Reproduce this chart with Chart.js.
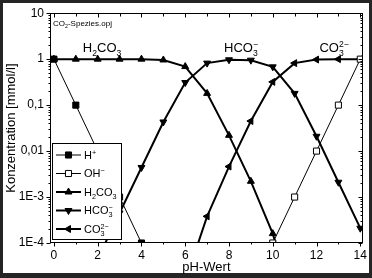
<!DOCTYPE html>
<html><head><meta charset="utf-8">
<script src="https://cdn.jsdelivr.net/npm/chart.js@4/dist/chart.umd.min.js"></script>
<style>
html,body{margin:0;padding:0;background:#252525;overflow:hidden}
canvas{display:block}
</style></head>
<body>
<canvas id="c" width="372" height="278"></canvas>
<script>
// ---- data ----
const pH = [0,1,2,3,4,5,6,7,8,9,10,11,12,13,14];
const hPlus  = [1,0.1,0.01,1e-3,1e-4,1e-5,null,null,null,null,null,null,null,null,null];
const ohMinus= [null,null,null,null,null,null,null,null,null,1e-5,1e-4,1e-3,0.01,0.1,1];
const h2co3  = [1,1,1,1,1,0.96,0.69,0.18,0.022,0.0022,1.6e-4,4e-6,null,null,null];
const hco3   = [null,null,4.5e-5,4.5e-4,0.0044,0.043,0.31,0.82,0.97,0.95,0.68,0.18,0.021,0.0021,2.1e-4];
const co3    = [null,null,null,null,null,null,1.45e-5,3.8e-4,0.0046,0.045,0.32,0.82,0.98,1,1];
const seriesLabels = ['H⁺','OH⁻','H₂CO₃','HCO₃⁻','CO₃²⁻'];
const xTickValues = [0,2,4,6,8,10,12,14];
const yTickValues = [1e-4,1e-3,0.01,0.1,1,10];
const yTickLabels = ['1E-4','1E-3','0,01','0,1','1','10'];
const curveLabels = ['H₂CO₃','HCO₃⁻','CO₃²⁻'];
const xTitle = 'pH-Wert';
const yTitle = 'Konzentration [mmol/l]';
const fileNote = 'CO₂-Spezies.opj';

const FONT = '"Liberation Sans", Arial, Helvetica, sans-serif';
const pts = arr => pH.map((x,i)=>({x:x, y:arr[i]}));

// ---- chemical-formula text with sub/superscripts ----
const SUB='₀₁₂₃₄₅₆₇₈₉', SUP='⁰¹²³⁴⁵⁶⁷⁸⁹⁺⁻', SUPN='0123456789+−';
function parseChem(s){
  const runs=[];
  for (const ch of s){
    let t='n', c=ch, i=SUB.indexOf(ch);
    if (i>=0){t='b';c=String(i);} else { i=SUP.indexOf(ch); if(i>=0){t='p';c=SUPN[i];} }
    const last=runs[runs.length-1];
    if (last && last.t===t) last.s+=c; else runs.push({t:t,s:c});
  }
  return runs;
}
function layoutChem(ctx, s, size){
  const runs=parseChem(s); let x=0; const out=[]; let i=0;
  while(i<runs.length){
    const r=runs[i];
    if(r.t==='n'){ ctx.font=size+'px '+FONT; const w=ctx.measureText(r.s).width; out.push({s:r.s,x:x,dy:0,sz:size}); x+=w; i++; }
    else {
      const sm=size*0.66; ctx.font=sm+'px '+FONT;
      let w=ctx.measureText(r.s).width;
      out.push({s:r.s,x:x,dy:r.t==='b'?size*0.28:-size*0.38,sz:sm});
      const nx=runs[i+1];
      if(nx && nx.t!=='n' && nx.t!==r.t){
        const w2=ctx.measureText(nx.s).width;
        out.push({s:nx.s,x:x,dy:nx.t==='b'?size*0.28:-size*0.38,sz:sm});
        w=Math.max(w,w2); i++;
      }
      x+=w; i++;
    }
  }
  return {parts:out,width:x};
}
function drawChem(ctx, s, x, y, size, align){
  const L=layoutChem(ctx,s,size);
  let x0 = align==='center'? x-L.width/2 : (align==='right'? x-L.width : x);
  const base = y + size*0.35;
  ctx.textAlign='left'; ctx.textBaseline='alphabetic'; ctx.fillStyle='#000';
  for(const p of L.parts){ ctx.font=p.sz+'px '+FONT; ctx.fillText(p.s, x0+p.x, base+p.dy); }
}

// ---- decoration plugin: frame, ticks, legend box, labels ----
const decor = {
  id:'decor',
  beforeDraw(chart){
    const c=chart.ctx; c.save();
    c.fillStyle='#252525'; c.fillRect(0,0,chart.width,chart.height);
    c.fillStyle='#fff'; c.fillRect(3,3,366,270);
    c.restore();
  },
  afterDatasetsDraw(chart){
    const c=chart.ctx, a=chart.chartArea, xs=chart.scales.x, ys=chart.scales.y;
    c.save();
    c.strokeStyle='#000'; c.lineWidth=1;
    const L=Math.round(a.left)+0.5, R=Math.round(a.right)-0.5, T=Math.round(a.top)+0.5, B=Math.round(a.bottom)-0.5;
    c.strokeRect(L,T,R-L,B-T);
    c.beginPath();
    // x ticks: bottom outward, top inward
    for(let v=0; v<=14; v++){
      const px=Math.round(xs.getPixelForValue(v))+0.5, major=(v%2===0);
      c.moveTo(px,B); c.lineTo(px,B+(major?4:2));
      c.moveTo(px,T); c.lineTo(px,T+(major?4:3));
    }
    // y ticks: left outward, right inward (log majors and minors)
    for(let e=-4; e<=1; e++){
      for(let m=1; m<=9; m++){
        const v=m*Math.pow(10,e); if(v>10.0001) break;
        const py=Math.round(ys.getPixelForValue(v))+0.5, major=(m===1);
        c.moveTo(L,py); c.lineTo(L-(major?4:2),py);
        c.moveTo(R,py); c.lineTo(R-(major?4:2),py);
      }
    }
    c.stroke();

    // curve labels
    const cl = chart.options.plugins.decor.curveLabels;
    cl.forEach(o=>{
      drawChem(c, o.text, xs.getPixelForValue(o.x), ys.getPixelForValue(o.y), 13, 'center');
    });
    // file note
    drawChem(c, chart.options.plugins.decor.note, a.left+3, a.top+10, 8, 'left');

    // legend box
    const lb = chart.options.plugins.decor.legendBox;
    c.fillStyle='#fff'; c.fillRect(lb.x,lb.y,lb.w,lb.h);
    c.strokeStyle='#000'; c.lineWidth=1; c.strokeRect(lb.x+0.5,lb.y+0.5,lb.w-1,lb.h-1);
    chart.data.datasets.forEach((ds,i)=>{
      const y=lb.rowY+i*lb.rowStep;
      c.beginPath(); c.lineWidth=ds.borderWidth; c.strokeStyle='#000';
      c.moveTo(lb.x+4,y); c.lineTo(lb.x+29,y); c.stroke();
      c.fillStyle=ds.pointBackgroundColor; c.strokeStyle='#000'; c.lineWidth=1;
      Chart.helpers.drawPoint(c,{pointStyle:ds.pointStyle,rotation:ds.pointRotation||0,radius:ds.pointRadius,borderWidth:1},lb.x+16.5,y);
      drawChem(c, ds.label, lb.x+32, y, 11, 'left');
    });

    // axis titles
    c.fillStyle='#000'; c.font='13px '+FONT; c.textAlign='center'; c.textBaseline='middle';
    c.fillText(chart.options.plugins.decor.xTitle, (a.left+a.right)/2, 267);
    c.save(); c.translate(11,(a.top+a.bottom)/2); c.rotate(-Math.PI/2);
    c.fillText(chart.options.plugins.decor.yTitle, 0, 0); c.restore();
    c.restore();
  }
};

const thin = {borderColor:'#000',borderWidth:1,pointRadius:4.3,pointStyle:'rect',pointBorderColor:'#000',pointBorderWidth:1,tension:0};
const thick = {borderColor:'#000',borderWidth:2,pointRadius:4,pointStyle:'triangle',pointBorderColor:'#000',pointBackgroundColor:'#000',pointBorderWidth:1,tension:0};

new Chart(document.getElementById('c'), {
  type:'line',
  data:{ datasets:[
    Object.assign({label:seriesLabels[0], data:pts(hPlus), pointBackgroundColor:'#000'}, thin),
    Object.assign({label:seriesLabels[1], data:pts(ohMinus), pointBackgroundColor:'#fff'}, thin),
    Object.assign({label:seriesLabels[2], data:pts(h2co3), pointRotation:0}, thick),
    Object.assign({label:seriesLabels[3], data:pts(hco3), pointRotation:180}, thick),
    Object.assign({label:seriesLabels[4], data:pts(co3), pointRotation:270}, thick)
  ]},
  options:{
    responsive:false, animation:false, devicePixelRatio:1,
    layout:{padding:{top:9,right:6,left:0,bottom:0}},
    plugins:{
      legend:{display:false}, tooltip:{enabled:false},
      decor:{
        curveLabels:[{text:curveLabels[0],x:2.2,y:1.8},{text:curveLabels[1],x:8.55,y:1.8},{text:curveLabels[2],x:12.8,y:1.8}],
        note:fileNote, xTitle:xTitle, yTitle:yTitle,
        legendBox:{x:52,y:143,w:70,h:97,rowY:155,rowStep:18.5}
      }
    },
    scales:{
      x:{type:'linear', min:-0.18, max:14.12,
        afterBuildTicks:s=>{s.ticks=xTickValues.map(v=>({value:v}));},
        afterFit:s=>{s.height=35;},
        grid:{display:false,drawTicks:false}, border:{display:false},
        ticks:{padding:5,color:'#000',font:{family:FONT,size:12},maxRotation:0,autoSkip:false,callback:v=>String(v)}},
      y:{type:'logarithmic', min:1e-4, max:10,
        afterBuildTicks:s=>{s.ticks=yTickValues.map(v=>({value:v}));},
        afterFit:s=>{s.width=50;},
        grid:{display:false,drawTicks:false}, border:{display:false},
        ticks:{padding:6,color:'#000',font:{family:FONT,size:12},autoSkip:false,callback:(v,i)=>yTickLabels[i]}}
    }
  },
  plugins:[decor]
});
</script>
</body></html>
